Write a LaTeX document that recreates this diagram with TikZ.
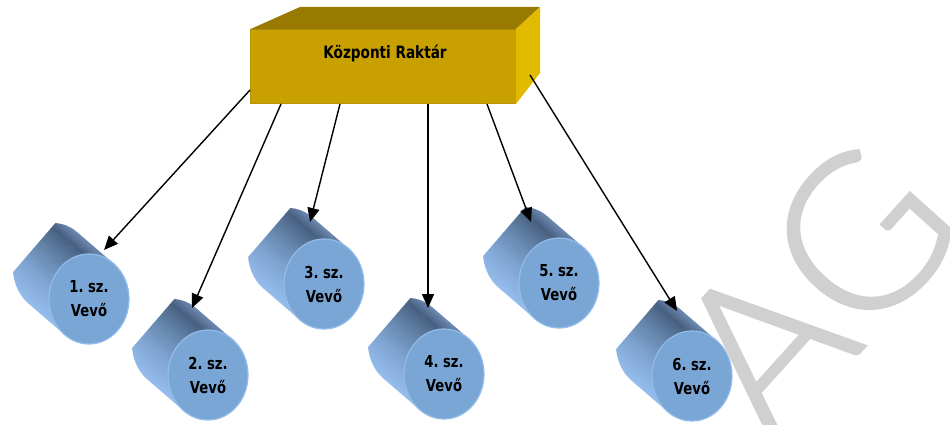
\documentclass[tikz,border=0pt]{standalone}
\usepackage{fontspec}
\setmainfont{DejaVu Sans}
\newfontfamily\lblfont{DejaVu Sans}[FakeStretch=0.8]
\newfontfamily\wmfont{Lato Light}[FakeBold=1.5]
\usetikzlibrary{arrows.meta,shapes.geometric}

\definecolor{goldfront}{RGB}{200,160,0}
\definecolor{goldtop}{RGB}{152,122,0}
\definecolor{goldside}{RGB}{226,186,0}
\definecolor{goldedge}{RGB}{184,148,8}
\definecolor{facefill}{RGB}{122,166,214}
\definecolor{facerim}{RGB}{146,188,236}
\definecolor{cylEdge}{RGB}{112,142,182}
\definecolor{cylDark}{RGB}{72,96,128}
\definecolor{cylMid}{RGB}{98,130,168}
\definecolor{cylLow}{RGB}{125,163,208}
\definecolor{cylLight}{RGB}{148,188,236}
\definecolor{wmgray}{RGB}{208,208,208}

\tikzset{
  arr/.style={-{Triangle[length=14pt,width=12pt]}, line width=1.4pt, black},
  vevoface/.style={ellipse, minimum width=80pt, minimum height=90pt, inner sep=0pt,
    fill=facefill, draw=facerim, line width=1.2pt, align=center,
    font=\lblfont\bfseries\fontsize{16.5}{24}\selectfont},
  boxfront/.style={rectangle, minimum width=265pt, minimum height=74pt, inner sep=0pt,
    fill=goldfront, draw=goldedge, line width=1pt},
  boxlabel/.style={font=\lblfont\bfseries\fontsize{17}{20}\selectfont, inner sep=0pt},
  watermark/.style={text=wmgray, font=\wmfont\fontsize{215}{215}\selectfont, inner sep=0pt}
}

% one customer drum: shaded body lying on its side, then its front face as a node
\newcommand\vevocyl[4]{%
  \begin{scope}[shift={(#2,-#3)}]
    \begin{scope}
      \clip (24.35,35.7) -- (-11.65,66.7)
        arc[start angle=52.5, end angle=232.5, x radius=40, y radius=45]
        -- (-24.35,-35.7)
        arc[start angle=232.5, end angle=412.5, x radius=40, y radius=45] -- cycle;
      \foreach \s in {-50,-48,...,50}{
        \ifdim \s pt>30pt
          \pgfmathsetmacro\p{min(100,(\s-30)/13*100)}\colorlet{strip}{cylEdge!\p!cylDark}%
        \else\ifdim \s pt>10pt
          \pgfmathsetmacro\p{(30-\s)/20*100}\colorlet{strip}{cylMid!\p!cylDark}%
        \else\ifdim \s pt>-15pt
          \pgfmathsetmacro\p{(10-\s)/25*100}\colorlet{strip}{cylLow!\p!cylMid}%
        \else
          \pgfmathsetmacro\p{min(100,(-15-\s)/28*100)}\colorlet{strip}{cylLight!\p!cylLow}%
        \fi\fi\fi
        \fill[strip] ({0.653*\s+0.758*60},{0.758*\s-0.653*60})
          -- ({0.653*(\s+2.4)+0.758*60},{0.758*(\s+2.4)-0.653*60})
          -- ({0.653*(\s+2.4)-0.758*75},{0.758*(\s+2.4)+0.653*75})
          -- ({0.653*\s-0.758*75},{0.758*\s+0.653*75}) -- cycle;
      }
    \end{scope}
    \node[vevoface] (#1) at (0,0) {#4.\ sz.\\Vevő};
  \end{scope}}

\begin{document}
\begin{tikzpicture}[x=1pt,y=1pt]
  \useasboundingbox (0,0) rectangle (950,-425);

  % watermark lettering behind everything
  \begin{scope}
    \clip (0,0) rectangle (950,-425);
    \node[watermark, rotate=48] (wm) at (815,-288) {AG};
  \end{scope}

  % central warehouse block
  \node[boxfront] (raktar) at (382.5,-67) {};
  \fill[goldtop] (raktar.north west) -- (300,-7) -- (540,-7) -- (raktar.north east) -- cycle;
  \fill[goldside] (raktar.north east) -- (540,-7) -- (540,-73) -- (raktar.south east) -- cycle;
  \node[boxlabel] (raktarnev) at (385,-53) {Központi Raktár};

  % customers
  \vevocyl{v1}{89}{299}{1}
  \vevocyl{v2}{208}{375}{2}
  \vevocyl{v3}{324}{284}{3}
  \vevocyl{v4}{444}{374}{4}
  \vevocyl{v5}{559}{283}{5}
  \vevocyl{v6}{692}{376}{6}

  % delivery arrows
  \coordinate (s1) at (250,-90);  \coordinate (t1) at (104,-250);
  \coordinate (s2) at (281,-104); \coordinate (t2) at (192,-308);
  \coordinate (s3) at (340,-104); \coordinate (t3) at (310,-222);
  \coordinate (s4) at (428,-104); \coordinate (t4) at (428,-308);
  \coordinate (s5) at (487,-104); \coordinate (t5) at (531,-222);
  \coordinate (s6) at (530,-75);  \coordinate (t6) at (677,-311);
  \foreach \i in {1,...,6}{\draw[arr] (s\i) -- (t\i);}
\end{tikzpicture}
\end{document}
